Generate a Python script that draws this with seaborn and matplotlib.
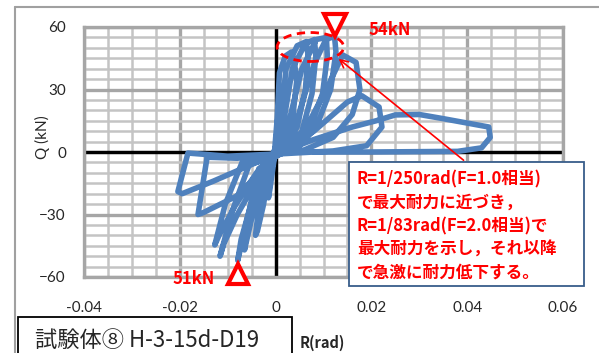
import matplotlib
matplotlib.use("Agg")
import matplotlib.pyplot as plt
import seaborn as sns
from matplotlib.patches import Ellipse, Rectangle
from matplotlib.lines import Line2D

# ---- data: hysteresis path R (rad) vs Q (kN) ----
R_RAD = [
    0.0,
    0.0004, 0.0010, 0.0013, 0.0011, 0.0005, -0.0004, -0.0012, -0.0015, -0.0011, -0.0003,
    0.0003, 0.0008, 0.0020, 0.0033, 0.0040, 0.0044, 0.0035, 0.0018, 0.0, -0.0012, -0.0025, -0.0038, -0.0042, -0.0036, -0.0020, 0.0,
    0.0010, 0.0022, 0.0045, 0.0064, 0.0068, 0.0062, 0.0045, 0.0025, 0.0, -0.0025, -0.0048, -0.0065, -0.0060, -0.0040, -0.0010,
    0.0015, 0.0035, 0.0062, 0.0081, 0.0084, 0.0076, 0.0055, 0.0030, 0.0, -0.0035, -0.0062, -0.0079, -0.0072, -0.0050, -0.0015,
    0.0025, 0.0055, 0.0085, 0.0106, 0.0108, 0.0098, 0.0070, 0.0040, 0.0, -0.0055, -0.0090, -0.0116, -0.0108, -0.0080, -0.0040, 0.0,
    0.0040, 0.0080, 0.0105, 0.0123, 0.0126, 0.0115, 0.0085, 0.0050, 0.0, -0.0070, -0.0105, -0.0127, -0.0118, -0.0085, -0.0040, 0.0,
    0.0060, 0.0110, 0.0140, 0.0168, 0.0176, 0.0160, 0.0120, 0.0060, 0.0, -0.0080, -0.0143, -0.0162, -0.0150, -0.0080, -0.0030, 0.0,
    0.0080, 0.0150, 0.0180, 0.0216, 0.0222, 0.0190, 0.0120, 0.0, -0.0100, -0.0183, -0.0204, -0.0195, -0.0130, -0.0060, 0.0,
    0.0080, 0.0160, 0.0210, 0.0250, 0.0300, 0.0350, 0.0410, 0.0445, 0.0448, 0.0430, 0.0380, 0.0200, 0.0080,
]
Q_KN = [
    0.0,
    15, 26, 28, 18, 5, -5, -18, -22, -12, -2,
    15, 38, 46, 48, 42, 34, 15, 4, -1, -5, -25, -38, -40, -28, -12, -1,
    15, 40, 51, 53, 46, 30, 12, 3, -2, -8, -30, -47, -38, -20, -4,
    12, 40, 52, 54, 46, 28, 10, 2, -2, -8, -35, -52, -42, -24, -5,
    12, 40, 54, 55, 46, 28, 10, 2, -2, -6, -28, -50, -44, -30, -14, -2,
    12, 42, 54, 55.5, 48, 30, 12, 3, -2, -5, -25, -44.6, -40, -26, -10, 0,
    10, 32, 46.6, 43, 30, 18, 7, 1, -1, -3, -2.5, -30, -29, -21, -9, -2,
    10, 24, 27, 21.6, 12, 3, 0.5, -1, -2, -0.5, -19, -20, -14, -7, -1,
    6, 12, 15, 17.8, 18, 16, 13.5, 12, 7, 2, 0.3, 0, 0,
]

MAX_POS = (0.0123, 61.0)      # inverted triangle, positive max
MIN_POS = (-0.0079, -58.6)    # triangle, negative max
MAX_LABEL = "54kN"
MIN_LABEL = "51kN"
NOTE_LINES = [
    "R=1/250rad(F=1.0相当)",
    "で最大耐力に近づき，",
    "R=1/83rad(F=2.0相当)で",
    "最大耐力を示し，それ以降",
    "で急激に耐力低下する。",
]
X_TICKS = [-0.04, -0.02, 0.0, 0.02, 0.04, 0.06]
X_TICK_LABELS = ["-0.04", "-0.02", "0", "0.02", "0.04", "0.06"]
Y_TICKS = [-60, -30, 0, 30, 60]

sns.set_style("white")
plt.rcParams["font.family"] = ["Lato", "Noto Sans CJK JP", "DejaVu Sans"]
JP = ["Noto Sans CJK JP", "DejaVu Sans"]

W, H = 599, 353
fig = plt.figure(figsize=(W / 100, H / 100), dpi=100)
ax = fig.add_axes([84 / W, 76 / H, 479 / W, 250 / H])

# grid like the Excel chart
ax.set_xlim(-0.04, 0.06)
ax.set_ylim(-60, 60)
ax.set_xticks(X_TICKS)
ax.set_xticklabels(X_TICK_LABELS)
ax.set_yticks(Y_TICKS)
ax.set_xticks([-0.04 + 0.005 * i for i in range(21)], minor=True)
ax.set_yticks([-60 + 5 * i for i in range(25)], minor=True)
ax.grid(which="major", color="#A6A6A6", lw=2.4, zorder=0)
ax.grid(which="minor", color="#C4C4C4", lw=1.8, zorder=0)
ax.set_axisbelow(True)
for s in ax.spines.values():
    s.set_color("#A6A6A6")
    s.set_linewidth(2.4)
ax.tick_params(which="both", length=0, labelsize=11)
ax.tick_params(axis="x", pad=17)
ax.tick_params(axis="y", pad=13)

ax.axhline(0, color="black", lw=2.4, zorder=1)
ax.axvline(0, color="black", lw=2.4, zorder=1)

sns.lineplot(x=R_RAD, y=Q_KN, sort=False, estimator=None, color="#4F81BD",
             lw=4, ax=ax, zorder=3, solid_joinstyle="round", solid_capstyle="round")
ax.set_xlabel("")
ax.set_ylabel("")

# max markers and labels
ax.plot(*MAX_POS, marker="v", ms=16, mfc="white", mec="red", mew=3, clip_on=False, zorder=6)
ax.plot(*MIN_POS, marker="^", ms=15, mfc="white", mec="red", mew=3, clip_on=False, zorder=6)
ax.text(0.0239, 58.6, MAX_LABEL, color="red", fontsize=12, fontweight="bold", family=JP,
        ha="center", va="center", clip_on=False)
ax.text(-0.0172, -61.2, MIN_LABEL, color="red", fontsize=12, fontweight="bold", family=JP,
        ha="center", va="center", clip_on=False)

ax.add_patch(Ellipse((0.00727, 50.4), 0.0139, 13.9, fill=False, ec="red", lw=2,
                     ls=(0, (3, 2)), zorder=5))
ax.annotate("", xy=(0.0127, 45.6), xytext=(0.0397, -4.8),
            arrowprops=dict(arrowstyle="->", color="red", lw=1.2, mutation_scale=14), zorder=5)

# note box
fig.add_artist(Rectangle((349 / W, 1 - 286 / H), 235 / W, 124 / H, transform=fig.transFigure,
                         fc="white", ec="#385D8A", lw=1.3, zorder=10))
for i, line in enumerate(NOTE_LINES):
    fig.text(357 / W, 1 - (179 + 23.5 * i) / H, line, color="red", fontsize=12,
             fontweight="bold", family=JP, ha="left", va="center", zorder=11)

# axis titles
fig.text(42 / W, 1 - 137 / H, "Q (kN)", rotation=90, fontsize=11, ha="center", va="center")
fig.text(300 / W, 1 - 343 / H, "R(rad)", fontsize=10.5, fontweight="bold", family=JP,
         ha="left", va="center")

# outer chart border and specimen label box
fig.add_artist(Line2D([15 / W, 1], [1 - 7 / H, 1 - 7 / H], transform=fig.transFigure, color="#A0A0A0", lw=1.5))
fig.add_artist(Line2D([15 / W, 15 / W], [0, 1 - 7 / H], transform=fig.transFigure, color="#A0A0A0", lw=1.5))
fig.add_artist(Rectangle((18 / W, -0.02), 274 / W, 36 / H + 0.02, transform=fig.transFigure,
                         fill=False, ec="black", lw=1.3))
fig.text(35 / W, 1 - 340 / H, "試験体⑧ H-3-15d-D19", fontsize=16, family=JP,
         ha="left", va="center")

fig.savefig("out.png", dpi=100)
